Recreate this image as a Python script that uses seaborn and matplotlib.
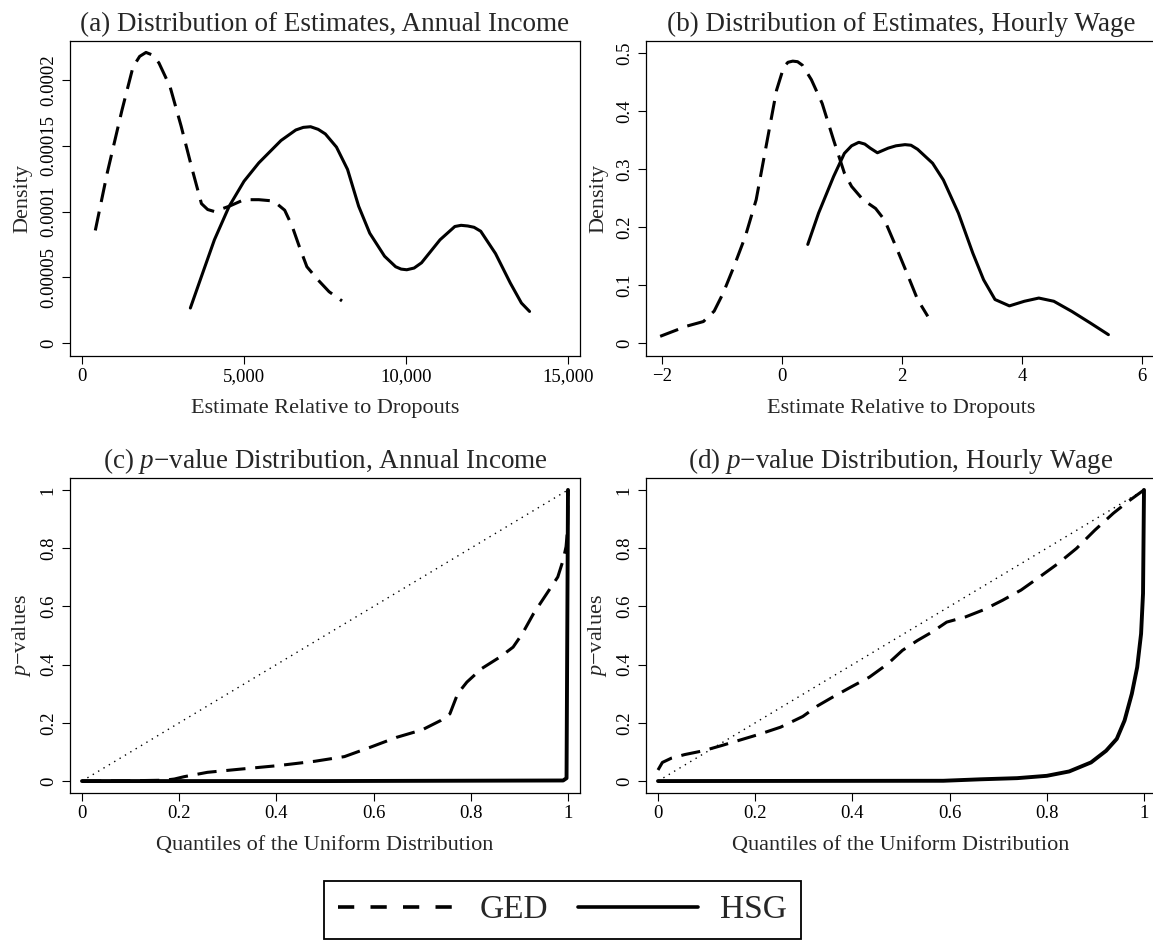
import numpy as np
import pandas as pd
import matplotlib
matplotlib.use("Agg")
import matplotlib.pyplot as plt
from matplotlib.lines import Line2D
import seaborn as sns

# ---------------- data ----------------
# (a) density of estimates, annual income
a_ged_x = [411, 776, 1233, 1575, 1780, 1975, 2180, 2375, 2717, 3059, 3402, 3687,
           3880, 4087, 4543, 5000, 5457, 5913, 6256, 6484, 6712, 6941, 7283, 7626,
           8025]
a_ged_y = [8.56e-5, 12.9e-5, 17.7e-5, 21.0e-5, 21.8e-5, 22.1e-5, 21.9e-5, 21.3e-5,
           19.5e-5, 16.5e-5, 13.2e-5, 10.6e-5, 10.15e-5, 10.0e-5, 10.4e-5, 10.9e-5,
           10.9e-5, 10.8e-5, 10.1e-5, 8.9e-5, 7.3e-5, 5.8e-5, 4.8e-5, 3.9e-5, 3.2e-5]
a_hsg_x = [3345, 3687, 4087, 4543, 5000, 5457, 6142, 6598, 6830, 7055, 7290, 7511,
           7854, 8196, 8539, 8881, 9338, 9680, 9850, 10023, 10250, 10479, 11050,
           11507, 11700, 11906, 12100, 12306, 12763, 13219, 13562, 13813]
a_hsg_y = [2.66e-5, 5.06e-5, 7.85e-5, 10.4e-5, 12.3e-5, 13.7e-5, 15.4e-5, 16.2e-5,
           16.4e-5, 16.45e-5, 16.25e-5, 15.9e-5, 14.9e-5, 13.2e-5, 10.4e-5, 8.35e-5,
           6.6e-5, 5.8e-5, 5.62e-5, 5.57e-5, 5.7e-5, 6.1e-5, 7.85e-5, 8.86e-5,
           8.95e-5, 8.9e-5, 8.8e-5, 8.5e-5, 6.8e-5, 4.56e-5, 3.04e-5, 2.4e-5]

# (b) density of estimates, hourly wage
b_ged_x = [-2.03, -1.59, -1.31, -1.13, -0.98, -0.80, -0.61, -0.43, -0.245, -0.09,
           0.03, 0.10, 0.18, 0.26, 0.34, 0.49, 0.67, 0.86, 1.04, 1.16, 1.35, 1.56,
           1.71, 1.90, 2.08, 2.26, 2.43]
b_ged_y = [0.0115, 0.029, 0.037, 0.055, 0.086, 0.132, 0.184, 0.247, 0.350, 0.436,
           0.476, 0.484, 0.486, 0.485, 0.479, 0.454, 0.413, 0.350, 0.293, 0.270,
           0.247, 0.232, 0.212, 0.166, 0.121, 0.075, 0.046]
b_hsg_x = [0.43, 0.61, 0.86, 1.04, 1.16, 1.28, 1.38, 1.47, 1.59, 1.77, 1.90, 2.05,
           2.15, 2.26, 2.51, 2.69, 2.94, 3.18, 3.36, 3.55, 3.79, 4.04, 4.28, 4.53,
           4.83, 5.14, 5.44]
b_hsg_y = [0.170, 0.224, 0.287, 0.327, 0.340, 0.346, 0.343, 0.336, 0.328, 0.336,
           0.340, 0.342, 0.341, 0.334, 0.310, 0.281, 0.224, 0.155, 0.109, 0.075,
           0.064, 0.072, 0.0775, 0.072, 0.0545, 0.0344, 0.0144]

# (c) p-value distribution, annual income
c_ged_x = [0.0, 0.10, 0.17, 0.19, 0.21, 0.258, 0.326, 0.403, 0.479, 0.54, 0.593,
           0.647, 0.70, 0.738, 0.757, 0.773, 0.792, 0.822, 0.860, 0.887, 0.906,
           0.929, 0.952, 0.979, 0.990, 0.996, 0.999, 1.0]
c_ged_y = [0.0, 0.001, 0.003, 0.007, 0.015, 0.030, 0.041, 0.053, 0.068, 0.084,
           0.116, 0.150, 0.176, 0.208, 0.231, 0.300, 0.340, 0.386, 0.426, 0.460,
           0.506, 0.575, 0.633, 0.701, 0.759, 0.805, 0.862, 1.0]
c_hsg_x = [0.0, 0.5, 0.99, 0.997, 1.0]
c_hsg_y = [0.0, 0.0, 0.002, 0.01, 1.0]

# (d) p-value distribution, hourly wage
d_ged_x = [0.0, 0.009, 0.028, 0.055, 0.093, 0.131, 0.169, 0.207, 0.252, 0.298,
           0.329, 0.359, 0.397, 0.435, 0.473, 0.503, 0.534, 0.564, 0.594, 0.633,
           0.671, 0.709, 0.747, 0.785, 0.823, 0.861, 0.899, 0.937, 0.967, 1.0]
d_ged_y = [0.038, 0.064, 0.079, 0.091, 0.104, 0.122, 0.141, 0.160, 0.185, 0.222,
           0.259, 0.288, 0.323, 0.357, 0.403, 0.449, 0.483, 0.512, 0.546, 0.564,
           0.589, 0.621, 0.656, 0.701, 0.747, 0.799, 0.862, 0.920, 0.960, 1.0]
d_hsg_x = [0.0, 0.587, 0.663, 0.739, 0.80, 0.846, 0.891, 0.922, 0.944, 0.960,
           0.975, 0.986, 0.994, 0.998, 1.0]
d_hsg_y = [0.0, 0.001, 0.006, 0.010, 0.018, 0.033, 0.064, 0.104, 0.145, 0.208,
           0.300, 0.391, 0.506, 0.644, 1.0]

# 45-degree reference line for the p-value panels
diag_x = [0.0, 1.0]
diag_y = [0.0, 1.0]

titles = ["(a) Distribution of Estimates, Annual Income",
          "(b) Distribution of Estimates, Hourly Wage",
          "(c) $p$\u2212value Distribution, Annual Income",
          "(d) $p$\u2212value Distribution, Hourly Wage"]
a_xticks = [0, 5000, 10000, 15000]
a_xticklabels = ["0", "5,000", "10,000", "15,000"]
a_yticks = [0, 0.00005, 0.0001, 0.00015, 0.0002]
a_yticklabels = ["0", "0.00005", "0.0001", "0.00015", "0.0002"]
b_xticks = [-2, 0, 2, 4, 6]
b_xticklabels = ["\u22122", "0", "2", "4", "6"]
b_yticks = [0, 0.1, 0.2, 0.3, 0.4, 0.5]
b_yticklabels = ["0", "0.1", "0.2", "0.3", "0.4", "0.5"]
p_ticks = [0, 0.2, 0.4, 0.6, 0.8, 1]
p_ticklabels = ["0", "0.2", "0.4", "0.6", "0.8", "1"]
legend_labels = ["GED", "HSG"]

# ---------------- style ----------------
sns.set_style("ticks")
plt.rcParams['font.family'] = ['Liberation Serif', 'DejaVu Serif']
plt.rcParams['mathtext.fontset'] = 'custom'
plt.rcParams['mathtext.rm'] = 'Liberation Serif'
plt.rcParams['mathtext.it'] = 'Liberation Serif:italic'
plt.rcParams['axes.unicode_minus'] = True

W, H = 1153, 944
fig = plt.figure(figsize=(W / 100, H / 100), dpi=100)
fig.patch.set_facecolor("white")

def box(l, t, r, b):
    return [l / W, 1 - b / H, (r - l) / W, (b - t) / H]

ax_a = fig.add_axes(box(70, 41, 580, 356))
ax_b = fig.add_axes(box(646, 41, 1156, 356))
ax_c = fig.add_axes(box(70, 478, 580, 793))
ax_d = fig.add_axes(box(646, 478, 1156, 793))

LW = 2.2
DASH = (0, (6.3, 3.2))
TICK_FS = 13.5
LAB_FS = 16
TITLE_FS = 19.5

def draw(ax, x, y, dashed, lw=LW):
    ls = DASH if dashed else "-"
    sns.lineplot(x=x, y=y, ax=ax, color="black", linewidth=lw, linestyle=ls,
                 sort=False, estimator=None, legend=False)

draw(ax_a, a_ged_x, a_ged_y, True)
draw(ax_a, a_hsg_x, a_hsg_y, False)
draw(ax_b, b_ged_x, b_ged_y, True)
draw(ax_b, b_hsg_x, b_hsg_y, False)
for ax in (ax_c, ax_d):
    sns.lineplot(x=diag_x, y=diag_y, ax=ax, color="black", linewidth=1.0,
                 linestyle=(0, (1, 3.5)), sort=False, estimator=None, legend=False)
draw(ax_c, c_ged_x, c_ged_y, True)
draw(ax_c, c_hsg_x, c_hsg_y, False, lw=2.8)
draw(ax_d, d_ged_x, d_ged_y, True)
draw(ax_d, d_hsg_x, d_hsg_y, False, lw=2.8)

ax_a.set_xlim(-370, 15370)
ax_a.set_ylim(-9.9e-6, 2.297e-4)
ax_b.set_xlim(-2.266, 6.233)
ax_b.set_ylim(-0.0224, 0.5207)
for ax in (ax_c, ax_d):
    ax.set_xlim(-0.0247, 1.0247)
    ax.set_ylim(-0.041, 1.041)

ax_a.set_xticks(a_xticks, a_xticklabels)
ax_a.set_yticks(a_yticks, a_yticklabels)
ax_b.set_xticks(b_xticks, b_xticklabels)
ax_b.set_yticks(b_yticks, b_yticklabels)
for ax in (ax_c, ax_d):
    ax.set_xticks(p_ticks, p_ticklabels)
    ax.set_yticks(p_ticks, p_ticklabels)

for ax, t in zip((ax_a, ax_b, ax_c, ax_d), titles):
    ax.set_title(t, fontsize=TITLE_FS, pad=7)
    for sp in ax.spines.values():
        sp.set_visible(True)
        sp.set_linewidth(0.9)
        sp.set_color("black")
    ax.tick_params(axis="both", direction="out", length=5.5, width=0.8,
                   labelsize=TICK_FS, colors="black")
    ax.tick_params(axis="x", pad=3)
    ax.tick_params(axis="y", pad=4)
    for lab in ax.get_yticklabels():
        lab.set_rotation(90)
        lab.set_va("center")
    ax.grid(False)

for ax in (ax_a, ax_b):
    ax.set_xlabel("Estimate Relative to Dropouts", fontsize=LAB_FS, labelpad=10)
    ax.set_ylabel("Density", fontsize=LAB_FS, labelpad=5)
for ax in (ax_c, ax_d):
    ax.set_xlabel("Quantiles of the Uniform Distribution", fontsize=LAB_FS, labelpad=10)
    ax.set_ylabel("$p$\u2212values", fontsize=LAB_FS, labelpad=5)

handles = [Line2D([0], [0], color="black", linewidth=2.6, linestyle=(0, (4.5, 4.5))),
           Line2D([0], [0], color="black", linewidth=2.6, linestyle="-")]
leg = fig.legend(handles, legend_labels, loc="center",
                 bbox_to_anchor=(562.5 / W, 1 - 910 / H), ncol=2, fontsize=24,
                 handlelength=3.6, handletextpad=0.66, columnspacing=0.9,
                 borderpad=0.4, frameon=True, fancybox=False, framealpha=1)
leg.get_frame().set_edgecolor("black")
leg.get_frame().set_linewidth(1.3)

fig.savefig("out.png", dpi=100, facecolor="white")
